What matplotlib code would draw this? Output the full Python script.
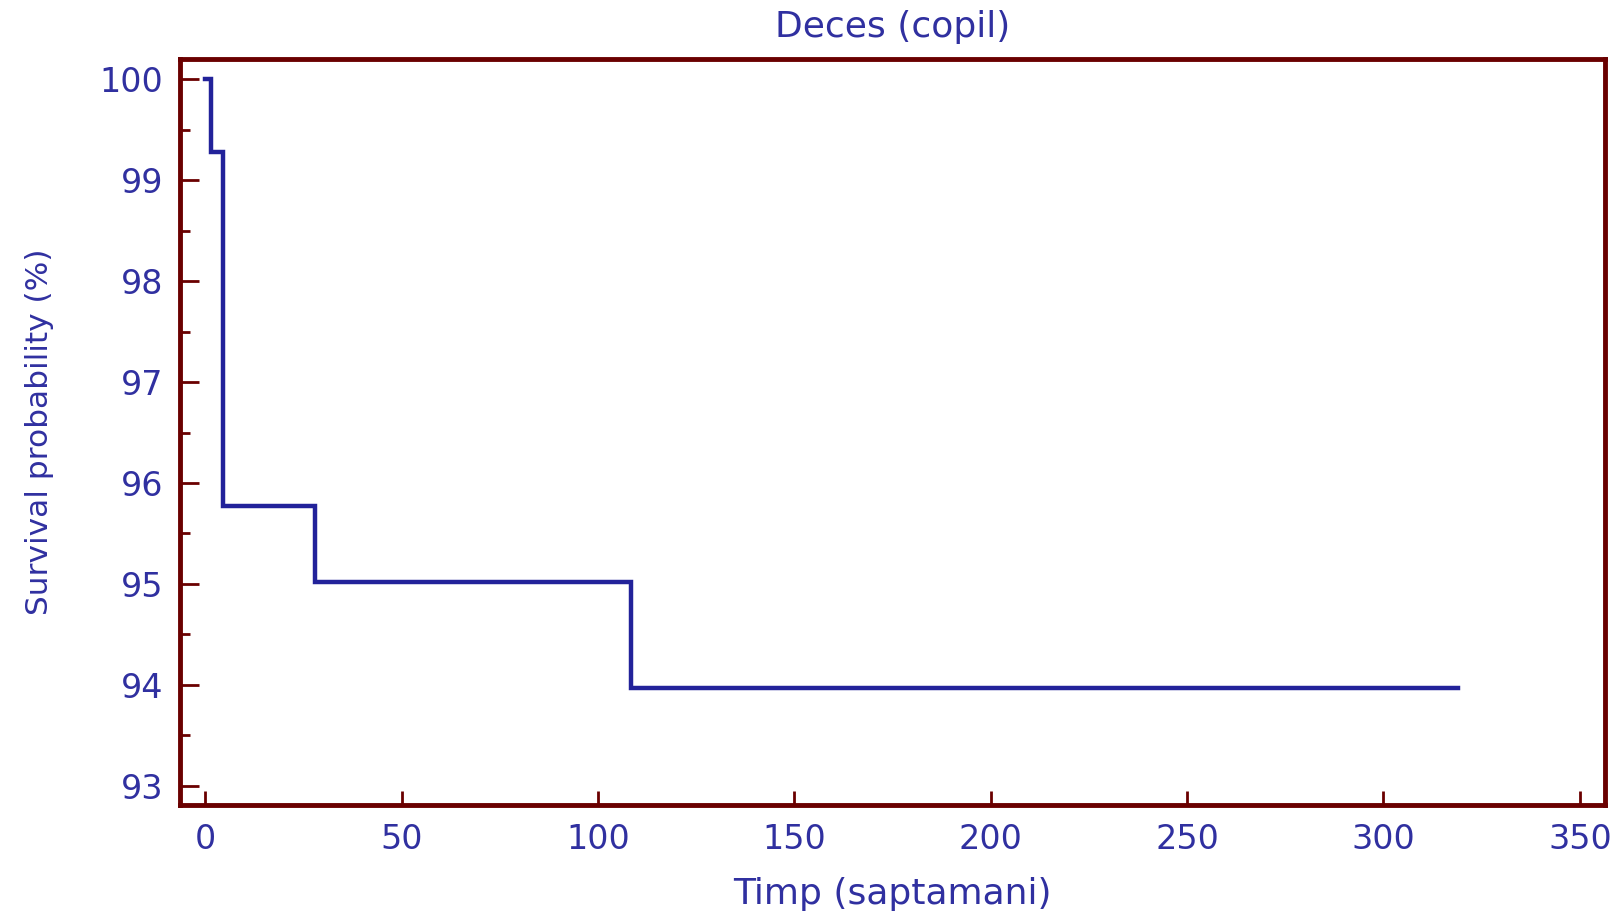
import numpy as np
import matplotlib.pyplot as plt
from matplotlib.ticker import MultipleLocator

plt.rcParams['font.family'] = ['DejaVu Sans']
plt.rcParams['font.size'] = 24

# Kaplan-Meier steps: time (weeks) and survival (%)
timp = [0, 1.5, 4.5, 28, 108.5, 319]
supravietuire = [100, 99.28, 95.77, 95.02, 93.97, 93.97]

text_col = '#3030a0'
axis_col = '#6a0000'
line_col = '#22229a'

fig = plt.figure(figsize=(16.22, 9.15), dpi=100)
ax = fig.add_axes([0.111, 0.1202, 0.8785, 0.8153])

ax.step(timp, supravietuire, where='post', color=line_col, lw=3.2, solid_joinstyle='miter')

ax.set_xlim(-6.4, 356.4)
ax.set_ylim(92.81, 100.2)
ax.xaxis.set_major_locator(MultipleLocator(50))
ax.yaxis.set_major_locator(MultipleLocator(1))
ax.yaxis.set_minor_locator(MultipleLocator(0.5))

for s in ax.spines.values():
    s.set_color(axis_col)
    s.set_linewidth(3.5)

ax.tick_params(axis='y', which='major', direction='in', length=14, width=2,
               color=axis_col, labelcolor=text_col, labelsize=24, pad=12)
ax.tick_params(axis='y', which='minor', direction='in', length=7.5, width=2,
               color=axis_col)
ax.tick_params(axis='x', which='major', direction='in', length=10, width=2,
               color=axis_col, labelcolor=text_col, labelsize=24, pad=13)

ax.set_title('Deces (copil)', color=text_col, fontsize=26, pad=16)
ax.set_xlabel('Timp (saptamani)', color=text_col, fontsize=26, labelpad=15)
ax.set_ylabel('Survival probability (%)', color=text_col, fontsize=22.5, labelpad=33)

fig.savefig('out.png', dpi=100)
